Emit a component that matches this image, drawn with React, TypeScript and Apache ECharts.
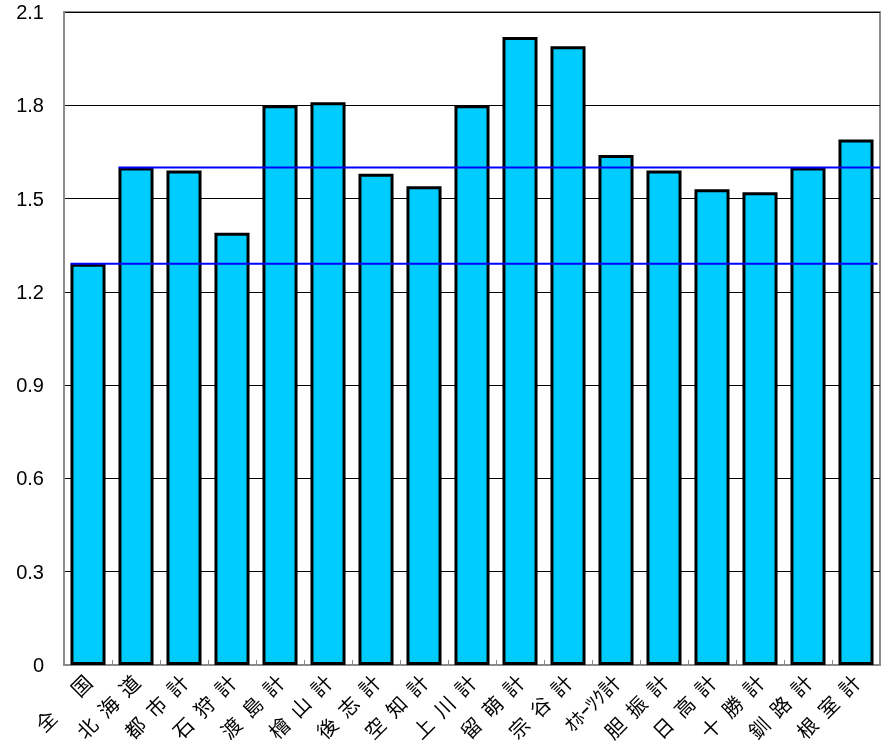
import React, { useEffect, useRef } from "react";
import * as echarts from "echarts";

const S = "\u2002";
const categories = [
  `全\u3000${S}国`, `北${S}海${S}道`, `都${S}市${S}計`, `石${S}狩${S}計`, `渡${S}島${S}計`, `檜${S}山${S}計`,
  `後${S}志${S}計`, `空${S}知${S}計`, `上${S}川${S}計`, `留${S}萌${S}計`, `宗${S}谷${S}計`, "ｵﾎｰﾂｸ計",
  `胆${S}振${S}計`, `日${S}高${S}計`, `十${S}勝${S}計`, `釧${S}路${S}計`, `根${S}室${S}計`,
];
const values = [1.29, 1.60, 1.59, 1.39, 1.80, 1.81, 1.58, 1.54, 1.80, 2.02, 1.99, 1.64, 1.59, 1.53, 1.52, 1.60, 1.69];
const nationalAvg = 1.29;
const hokkaidoAvg = 1.60;
const yTicks = [0, 0.3, 0.6, 0.9, 1.2, 1.5, 1.8, 2.1];

export default function App() {
  const ref = useRef<HTMLDivElement>(null);
  useEffect(() => {
    if (!ref.current) return;
    const chart = echarts.init(ref.current, null, { renderer: "svg" });
    const barFrac = 0.73;
    const off = (1 - barFrac) / 2;
    const n = categories.length;
    chart.setOption({
      animation: false,
      textStyle: { fontFamily: "'Noto Sans CJK JP', sans-serif" },
      grid: {
        left: 64, right: 13, top: 12, bottom: 88,
        show: true, borderColor: "#8c8c8c", borderWidth: 2, backgroundColor: "#fff",
      },
      xAxis: [
        {
          type: "category",
          data: categories,
          axisLine: { lineStyle: { color: "#8c8c8c", width: 2 } },
          axisTick: { show: true, inside: true, length: 5, lineStyle: { color: "#8c8c8c" } },
          axisLabel: {
            interval: 0, rotate: 45, margin: 13, color: "#000", fontSize: 20,
            fontFamily: "'Noto Sans CJK JP', sans-serif",
          },
        },
        { type: "value", min: 0, max: n, show: false },
      ],
      yAxis: {
        type: "value", min: 0, max: 2.1, interval: 0.3,
        axisLine: { show: true, lineStyle: { color: "#8c8c8c", width: 2 } },
        axisTick: { show: false },
        axisLabel: {
          color: "#000", fontSize: 20, margin: 20, lineHeight: 20,
          fontFamily: "'Liberation Sans', Arial, sans-serif",
          formatter: (v: number) => {
            const t = yTicks.find((x) => Math.abs(x - v) < 1e-6);
            return t === undefined ? "" : String(t);
          },
        },
        splitLine: { show: true, lineStyle: { color: "#000", width: 1 } },
      },
      series: [
        {
          type: "bar",
          data: values,
          barCategoryGap: `${Math.round((1 - barFrac) * 100)}%`,
          itemStyle: { color: "#00CCFF", borderColor: "#000", borderWidth: 3 },
          z: 2,
        },
        {
          type: "line",
          xAxisIndex: 1,
          data: [[off, nationalAvg], [n - 0.05, nationalAvg]],
          symbol: "none",
          lineStyle: { color: "#0000FF", width: 2 },
          z: 3,
        },
        {
          type: "line",
          xAxisIndex: 1,
          data: [[1 + off, hokkaidoAvg], [n, hokkaidoAvg]],
          symbol: "none",
          lineStyle: { color: "#0000FF", width: 2 },
          z: 3,
        },
      ],
    });
    return () => chart.dispose();
  }, []);
  return <div ref={ref} style={{ position: "fixed", left: 0, top: 0, width: 893, height: 753 }} />;
}
